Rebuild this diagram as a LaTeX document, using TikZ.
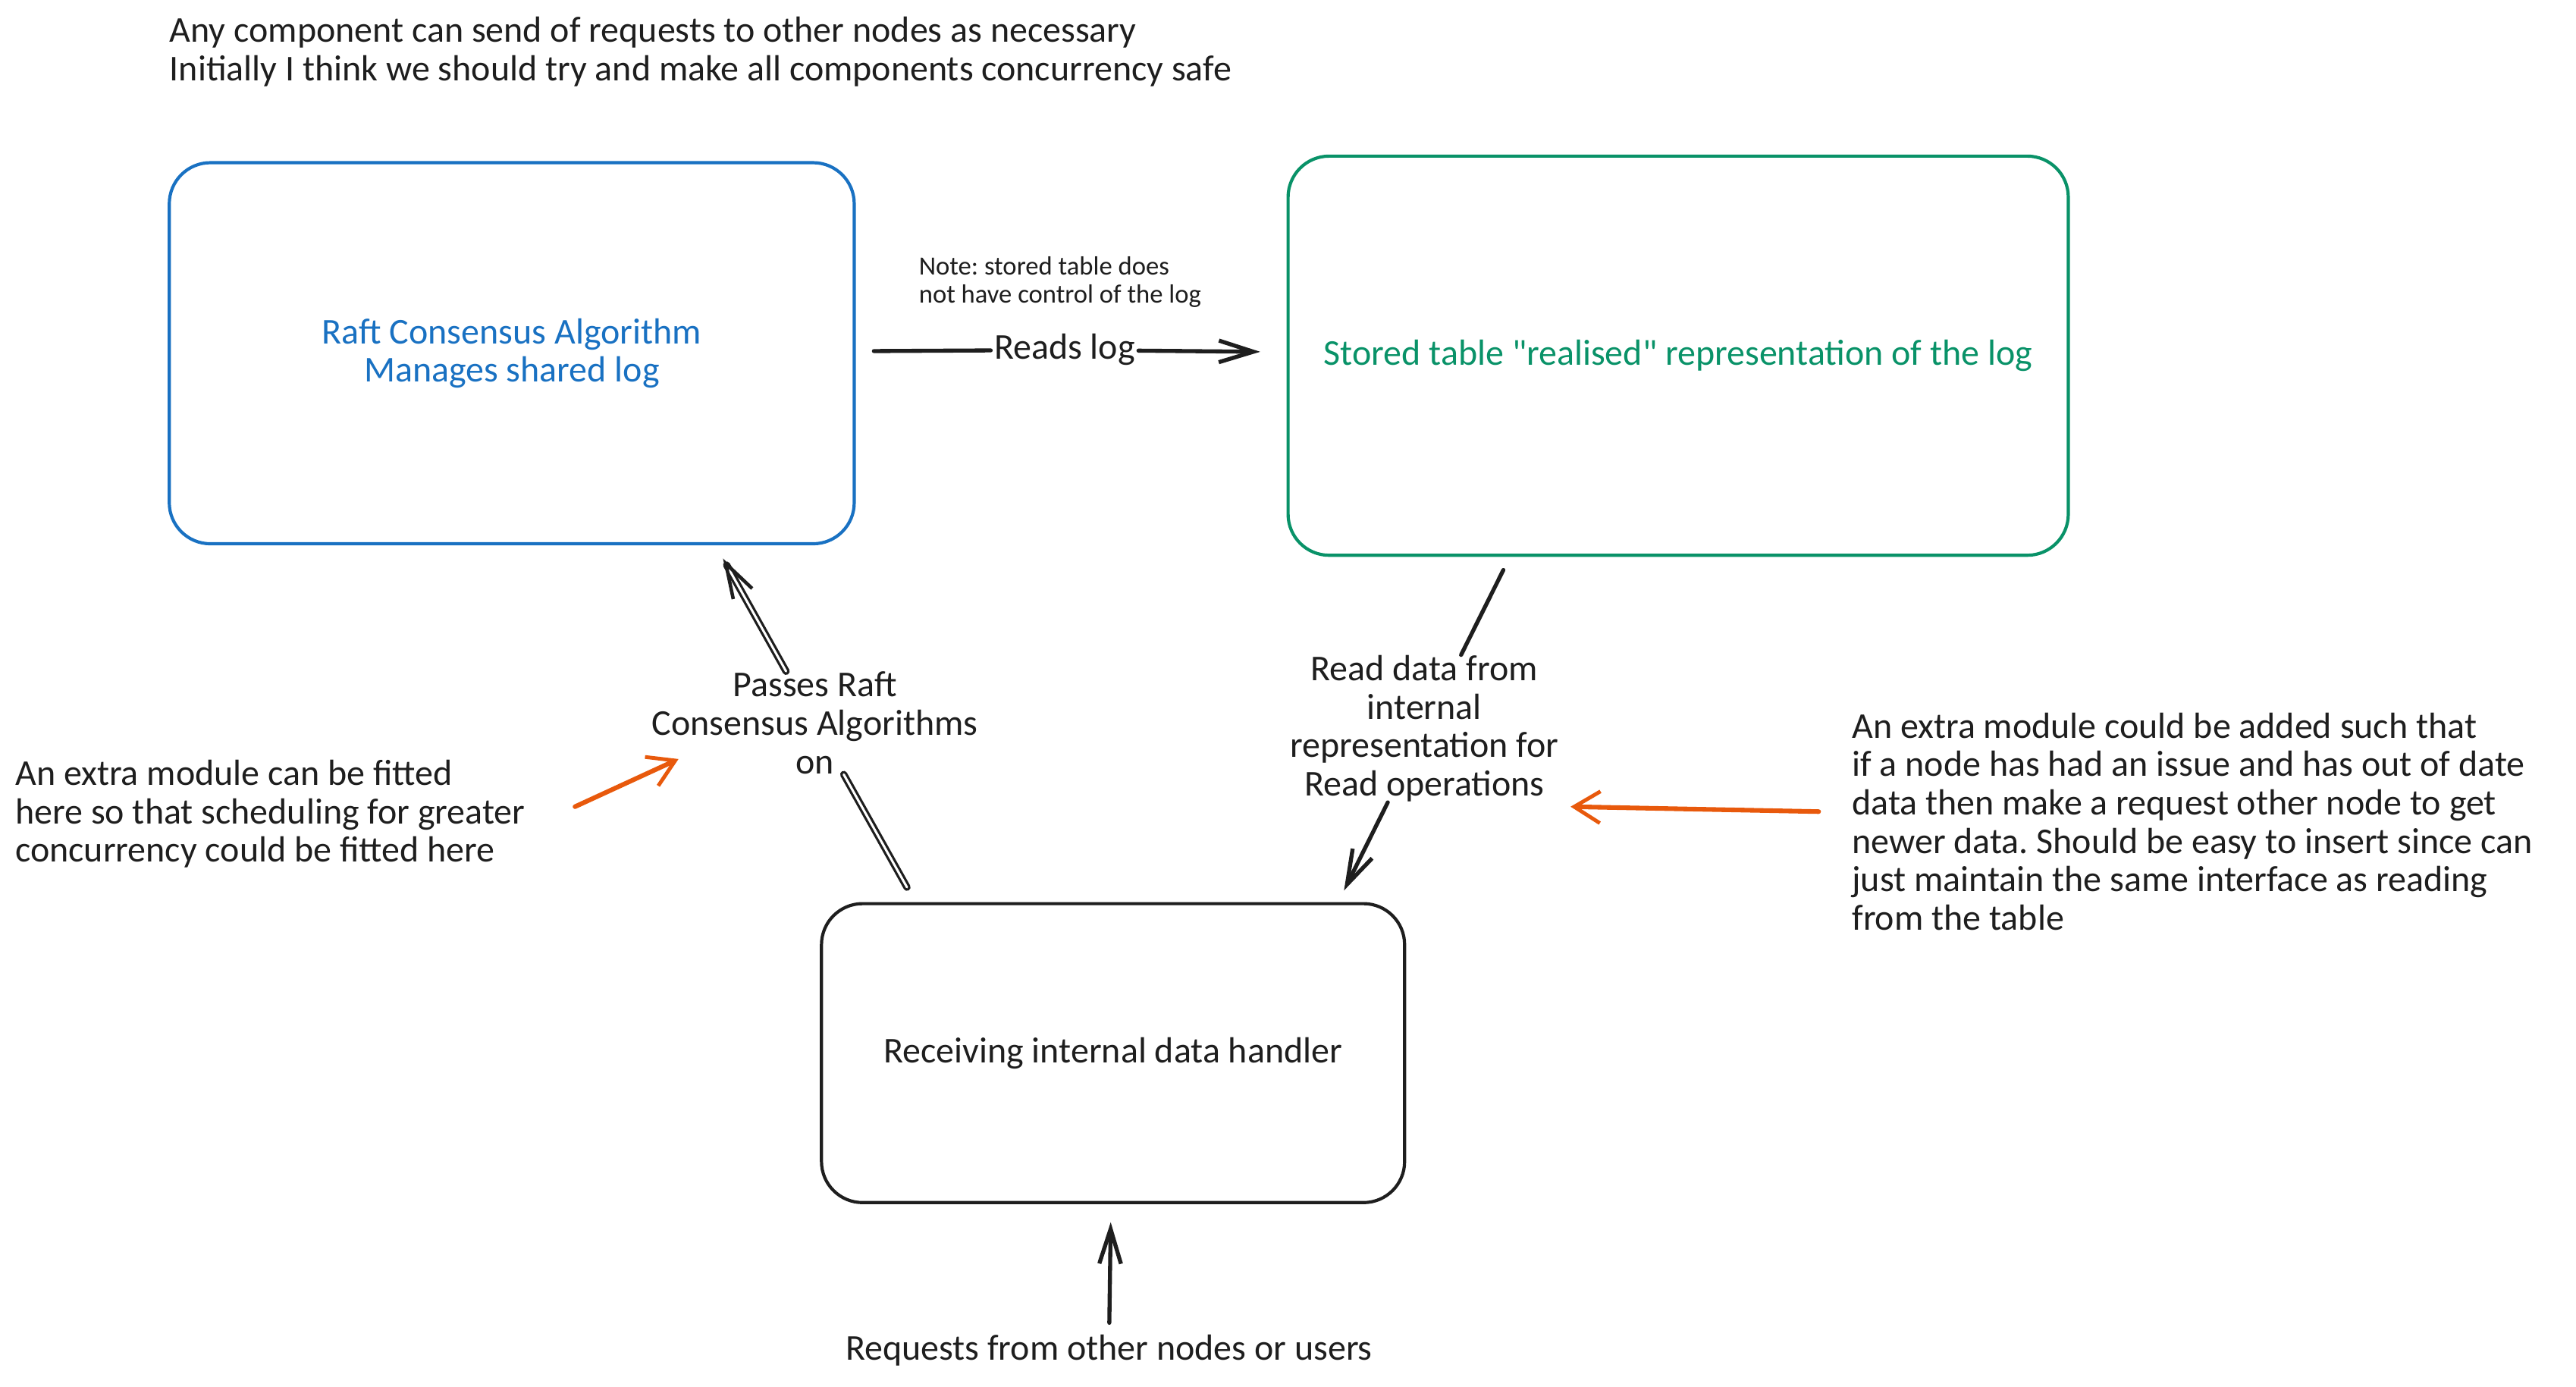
\documentclass[tikz,border=0pt]{standalone}
\usepackage{fontspec}
\setmainfont{Carlito}
\newfontfamily\plainq{Carlito}[Ligatures=TeXOff]
\usetikzlibrary{arrows.meta,calc}
\definecolor{exblue}{HTML}{1971C2}
\definecolor{exgreen}{HTML}{099268}
\definecolor{exorange}{HTML}{E8590C}
\definecolor{exink}{HTML}{1E1E1E}
\newcommand{\sq}{{\plainq"}}
\frenchspacing
\begin{document}
\begin{tikzpicture}[x=0.02cm,y=-0.02cm,
  txt/.style={font=\fontsize{12.6}{13.3}\selectfont, text=exink, inner sep=0pt, align=center},
  smalltxt/.style={font=\fontsize{9.1}{9.7}\selectfont, text=exink, inner sep=0pt, align=left},
  box/.style={draw, line width=1.1pt, rounded corners=0.5cm, inner sep=0pt,
    font=\fontsize{12.6}{13.3}\selectfont, align=center},
  conn/.style={draw=exink, line width=1.4pt, line cap=round},
  tipblack/.style={-{Straight Barb[length=12pt,width=7.5pt,line width=1.4pt]}},
  dblconn/.style={draw=exink, double=white, double distance=0.8pt, line width=0.85pt, line cap=round},
  orangeconn/.style={draw=exorange, line width=1.6pt, line cap=round,
    -{Straight Barb[length=9pt,width=11pt,line width=1.3pt]}}
]
\useasboundingbox (0,0) rectangle (1568,843.8);

% top comment
\node[txt, anchor=west, align=left] (topnote) at (103,31.5)
  {Any component can send of requests to other nodes as necessary\\
   Initially I think we should try and make all components concurrency safe};

% boxes
\node[box, draw=exblue, text=exblue, minimum width=8.34cm, minimum height=4.64cm]
  (raft) at (311.5,215) {Raft Consensus Algorithm\\Manages shared log};
\node[box, draw=exgreen, text=exgreen, minimum width=9.5cm, minimum height=4.86cm]
  (table) at (1021.5,216.5) {Stored table \sq realised\sq{} representation of the log};
\node[box, draw=exink, text=exink, minimum width=7.1cm, minimum height=3.64cm]
  (handler) at (677.5,641) {Receiving internal data handler};

% note above reads log
\node[smalltxt, anchor=west] (note) at (559,171.5)
  {Note: stored table does\\not have control of the log};

% labels on connectors
\node[txt, inner sep=1pt] (readslog) at (648,213) {Reads log};
\node[txt] (passes) at (496,440) {Passes Raft\\Consensus Algorithms\\on};
\node[txt] (readdata) at (867,443.5) {Read data from\\internal\\representation for\\Read operations};
\node[txt, inner sep=4pt] (requests) at (675,822) {Requests from other nodes or users};

% side notes
\node[txt, anchor=west, align=left] (leftnote) at (9,495.5)
  {An extra module can be fitted\\
   here so that scheduling for greater\\
   concurrency could be fitted here};
\node[txt, anchor=west, align=left] (rightnote) at (1127,500)
  {An extra module could be added such that\\
   if a node has had an issue and has out of date\\
   data then make a request other node to get\\
   newer data. Should be easy to insert since can\\
   just maintain the same interface as reading\\
   from the table};

% connector end points
\coordinate (passS) at ($(handler.north west)+(53,-9)$);
\coordinate (passE) at ($(raft.south west)+(338,8)$);
\coordinate (readS) at ($(table.south west)+(132,8)$);
\coordinate (readE) at ($(handler.north west)+(319,-7)$);
\coordinate (orgLS) at (350,491);
\coordinate (orgLE) at (413,462);
\coordinate (orgRS) at ($(rightnote.west)+(-20,-6)$);
\coordinate (orgRE) at (956,491);

% Reads log
\draw[conn, shorten <=0.22cm] (raft) -- (readslog);
\draw[conn, tipblack, shorten >=0.32cm] (readslog) -- (table);

% Passes Raft
\draw[dblconn] (passS) -- (passes);
\draw[dblconn, -{Straight Barb[length=12pt,width=7.5pt,line width=1.2pt]}] (passes) -- (passE);

% Read data
\draw[conn] (readS) -- (readdata);
\draw[conn, tipblack] (readdata) -- (readE);

% Requests
\draw[conn, tipblack, shorten >=0.22cm] (requests) -- (handler);

% orange
\draw[orangeconn] (orgLS) -- (orgLE);
\draw[orangeconn] (orgRS) -- (orgRE);
\end{tikzpicture}
\end{document}
